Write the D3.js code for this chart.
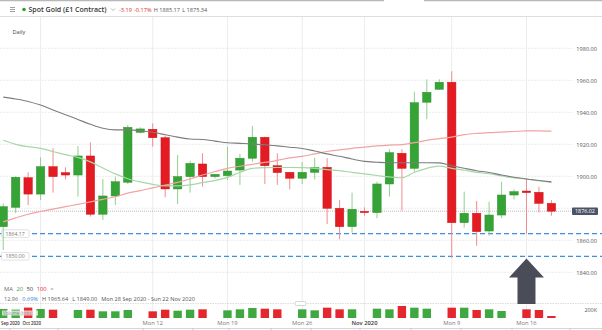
<!DOCTYPE html>
<html><head><meta charset="utf-8">
<script src="https://cdn.jsdelivr.net/npm/d3@7/dist/d3.min.js"></script>
<style>html,body{margin:0;padding:0;background:#fff;overflow:hidden}svg{display:block;font-family:"Open Sans",sans-serif}</style>
</head><body><svg id="c" width="602" height="330"></svg>
<script>
// ---- data ----
const dates = ["2020-09-28","2020-09-29","2020-09-30","2020-10-01","2020-10-02","2020-10-04","2020-10-05","2020-10-06","2020-10-07","2020-10-08","2020-10-09","2020-10-11","2020-10-12","2020-10-13","2020-10-14","2020-10-15","2020-10-16","2020-10-18","2020-10-19","2020-10-20","2020-10-21","2020-10-22","2020-10-23","2020-10-25","2020-10-26","2020-10-27","2020-10-28","2020-10-29","2020-10-30","2020-11-01","2020-11-02","2020-11-03","2020-11-04","2020-11-05","2020-11-06","2020-11-08","2020-11-09","2020-11-10","2020-11-11","2020-11-12","2020-11-13","2020-11-15","2020-11-16","2020-11-17","2020-11-18"];
const open  = [1868.5,1880.6,1899.1,1888.9,1906.0,1902.3,1900.8,1912.7,1876.3,1887.7,1896.3,1927.5,1929.4,1924.1,1892.1,1899.8,1907.7,1899.8,1900.4,1903.9,1911.3,1924.4,1906.6,1902.5,1898.8,1902.5,1905.6,1880.0,1868.5,1878.1,1877.3,1895.2,1914.4,1905.0,1946.3,1954.4,1958.8,1871.0,1876.9,1865.8,1875.8,1888.3,1890.8,1890.0,1883.1];
const high  = [1883.0,1900.0,1902.5,1911.9,1917.5,1905.6,1918.9,1921.3,1898.3,1899.8,1932.1,1930.6,1933.1,1925.4,1913.3,1909.8,1914.4,1901.5,1918.5,1914.0,1931.4,1924.8,1914.4,1902.8,1908.8,1911.6,1911.3,1885.2,1889.8,1880.6,1896.6,1916.9,1916.9,1952.9,1960.6,1960.6,1965.64,1890.4,1884.6,1884.1,1896.6,1891.9,1898.8,1893.5,1885.17];
const low   = [1854.0,1877.0,1882.0,1885.2,1889.8,1898.1,1887.3,1874.8,1872.7,1882.1,1895.2,1926.8,1918.5,1886.9,1882.7,1889.8,1893.5,1898.6,1897.7,1894.6,1909.1,1895.2,1894.6,1891.9,1895.2,1898.1,1870.2,1860.6,1864.8,1875.4,1873.8,1887.3,1878.5,1902.9,1935.6,1953.9,1849.0,1867.9,1856.6,1862.9,1873.8,1885.6,1864.17,1877.3,1875.34];
const close = [1881.0,1899.4,1888.9,1906.0,1899.8,1900.8,1912.7,1876.3,1887.7,1896.6,1930.6,1929.6,1924.1,1892.1,1899.8,1908.1,1899.8,1901.2,1903.3,1911.3,1924.4,1906.6,1902.3,1898.8,1902.5,1905.4,1880.0,1868.5,1879.4,1877.3,1895.2,1914.8,1905.0,1946.0,1952.5,1958.8,1871.0,1876.9,1865.4,1875.8,1888.3,1890.4,1889.8,1883.1,1878.2];
const volume = [225000,210000,260000,225000,208000,0,200000,208000,167000,167000,200000,0,167000,208000,183000,208000,217000,0,192000,217000,250000,233000,217000,0,217000,192000,258000,217000,217000,0,233000,217000,300000,258000,233000,0,258000,258000,200000,217000,175000,0,217000,200000,50000];
const ma20  = [1922.5,1920.0,1918.5,1917.5,1915.5,1913.5,1911.8,1909.0,1905.2,1901.5,1898.5,1896.5,1895.0,1894.0,1894.0,1894.6,1896.0,1897.3,1899.3,1902.5,1905.0,1905.4,1905.5,1905.5,1905.4,1905.0,1904.2,1903.5,1902.5,1901.5,1900.5,1899.6,1899.1,1902.5,1905.0,1906.4,1905.0,1903.8,1902.5,1901.6,1900.3,1899.0,1898.3,1897.2,1896.2];
const ma50  = [1949.5,1948.3,1946.8,1944.5,1941.5,1938.5,1935.5,1932.5,1930.0,1929.0,1929.0,1928.5,1927.5,1926.0,1924.5,1923.3,1923.0,1922.0,1921.0,1920.6,1920.2,1919.7,1919.0,1918.2,1917.4,1915.8,1914.0,1912.5,1910.8,1909.3,1908.8,1908.5,1908.5,1908.5,1908.5,1908.4,1906.6,1905.0,1903.5,1902.4,1900.8,1899.4,1898.3,1897.4,1896.5];
const ma100 = [1871.5,1874.0,1876.3,1878.0,1879.5,1881.0,1882.5,1884.0,1885.6,1887.2,1889.5,1891.0,1892.8,1894.5,1896.2,1898.3,1900.8,1903.0,1905.0,1906.3,1907.5,1908.7,1910.0,1911.5,1912.5,1914.0,1915.5,1916.5,1917.5,1918.2,1919.0,1919.5,1919.8,1921.0,1922.5,1923.5,1924.5,1926.0,1926.8,1927.3,1927.6,1928.0,1928.4,1928.4,1928.2];
const priceTicks = [1840,1860,1880,1900,1920,1940,1960,1980];
const volumeTicks = [200000];
const timeTickDates  = ["2020-09-28","2020-10-01","2020-10-12","2020-10-19","2020-10-26","2020-11-01","2020-11-09","2020-11-16"];
const timeTickLabels = ["Sep 2020","Oct 2020","Mon 12","Mon 19","Mon 26","Nov 2020","Mon 9","Mon 16"];
const levels = [1864.17, 1850.00];
const lastPriceText = "1876.02";
const titleText = "Spot Gold (£1 Contract)";
const headerStats = [{t:"-3.19",c:"#e0262b"},{t:"-0.17%",c:"#e0262b"},{t:"H 1885.17",c:"#555"},{t:"L 1875.34",c:"#555"}];
const legendItems = [{t:"MA",c:"#666"},{t:"20",c:"#3fa33f"},{t:"50",c:"#444"},{t:"100",c:"#e0262b"},{t:"×",c:"#888"}];
const statItems = [{t:"12.96",c:"#666"},{t:"0.69%",c:"#3a86d4"},{t:"H 1965.64",c:"#555"},{t:"L 1849.00",c:"#555"},{t:"Mon 28 Sep 2020 - Sun 22 Nov 2020",c:"#555"}];

// ---- scales ----
const svg = d3.select("#c");
const x = d3.scalePoint().domain(dates).range([3.2, 551.4]);
const y = d3.scaleLinear().domain([1840, 1980]).range([272.3, 48.3]);
const yv = d3.scaleLinear().domain([0, 200000]).range([318, 310]);
const GREEN = "#36a336", RED = "#e31b23";
const bodyW = 8.4;
const plotRight = 572;

// top border + header
svg.append("line").attr("x1",0).attr("x2",384).attr("y1",0.5).attr("y2",0.5).attr("stroke","#b8b8b8").attr("stroke-width",1.5);
svg.append("line").attr("x1",424).attr("x2",602).attr("y1",0.5).attr("y2",0.5).attr("stroke","#b8b8b8").attr("stroke-width",1.5);
svg.append("line").attr("x1",0).attr("x2",602).attr("y1",16.5).attr("y2",16.5).attr("stroke","#dedede");
[7.5,9.5,11.5].forEach(yy=>svg.append("line").attr("x1",10).attr("x2",15).attr("y1",yy).attr("y2",yy).attr("stroke","#888").attr("stroke-width",0.8));
svg.append("circle").attr("cx",24).attr("cy",9.5).attr("r",1.8).attr("fill","#2ea02e");
svg.append("text").attr("x",28.5).attr("y",12).attr("font-size",7).attr("font-weight",600).attr("fill","#333").text(titleText);
svg.append("path").attr("d","M111,8.5 L113,10.5 L115,8.5").attr("fill","none").attr("stroke","#999").attr("stroke-width",0.7);
let hx = 119;
const hg = svg.append("g");
headerStats.forEach(s=>{
  const t = hg.append("text").attr("x",hx).attr("y",12).attr("font-size",5.6).attr("fill",s.c).text(s.t);
  hx += t.node().getComputedTextLength() + 2.2;
});
svg.append("text").attr("x",12.5).attr("y",33.5).attr("font-size",5.6).attr("fill","#444").text("Daily");

// grid
const grid = svg.append("g");
priceTicks.forEach(v=>{
  grid.append("line").attr("x1",0).attr("x2",plotRight).attr("y1",y(v)).attr("y2",y(v))
    .attr("stroke","#ececec").attr("stroke-width",1).attr("stroke-dasharray","2,1");
});
timeTickDates.slice(1).forEach(d=>{
  grid.append("line").attr("x1",x(d)).attr("x2",x(d)).attr("y1",17).attr("y2",320)
    .attr("stroke","#ececec").attr("stroke-width",1);
});

// right price axis
const axisG = svg.append("g").attr("transform","translate(597,0)")
  .call(d3.axisLeft(y).tickValues(priceTicks.filter(v=>Math.abs(y(v)-y(close[close.length-1]))>8)).tickFormat(d3.format(".2f")).tickSize(0).tickPadding(0));
axisG.select(".domain").remove();
axisG.selectAll("text").attr("font-size",5.6).attr("fill","#555").attr("font-family","Open Sans, sans-serif");

// support levels
levels.forEach(v=>{
  svg.append("line").attr("x1",0).attr("x2",602).attr("y1",y(v)).attr("y2",y(v))
    .attr("stroke","#3d8fe0").attr("stroke-width",1.3).attr("stroke-dasharray","5,3");
  svg.append("rect").attr("x",1.5).attr("y",y(v)-3.8).attr("width",27.5).attr("height",7.6)
    .attr("fill","#fff").attr("stroke","#cfcfcf").attr("stroke-width",0.6).attr("rx",1);
  svg.append("text").attr("x",15.2).attr("y",y(v)+1.9).attr("text-anchor","middle").attr("font-size",5.2).attr("fill","#777").text(d3.format(".2f")(v));
});

// current price line
const lastY = y(close[close.length-1]);
svg.append("line").attr("x1",0).attr("x2",plotRight).attr("y1",lastY).attr("y2",lastY)
  .attr("stroke","#aaa").attr("stroke-width",0.8).attr("stroke-dasharray","1,1");

// candles
const cg = svg.append("g");
dates.forEach((d,i)=>{
  const up = close[i] >= open[i];
  const col = up ? GREEN : RED;
  cg.append("line").attr("x1",x(d)).attr("x2",x(d)).attr("y1",y(high[i])).attr("y2",y(low[i]))
    .attr("stroke", up ? "#8fd08f" : "#f28c8f").attr("stroke-width",1);
  const top = y(Math.max(open[i],close[i])), bot = y(Math.min(open[i],close[i]));
  cg.append("rect").attr("x",x(d)-bodyW/2).attr("y",top).attr("width",bodyW).attr("height",Math.max(1.2,bot-top))
    .attr("fill",col).attr("stroke",up?"#2e912e":"#d0151c").attr("stroke-width",0.5);
});

// moving averages
const line = arr => d3.line().x((d,i)=>x(dates[i])).y(d=>y(d)).curve(d3.curveMonotoneX)(arr);
svg.append("path").attr("d",line(ma100)).attr("fill","none").attr("stroke","#f2a3a3").attr("stroke-width",1.2);
svg.append("path").attr("d",line(ma20)).attr("fill","none").attr("stroke","#a6d8a6").attr("stroke-width",1.2);
svg.append("path").attr("d",line(ma50)).attr("fill","none").attr("stroke","#7d7d7d").attr("stroke-width",1.1);

// current price label
svg.append("rect").attr("x",572).attr("y",lastY-3.8).attr("width",26).attr("height",7.6).attr("fill","#4c5366").attr("rx",1);
svg.append("text").attr("x",585).attr("y",lastY+2).attr("text-anchor","middle").attr("font-size",5.4).attr("fill","#fff").text(lastPriceText);

// legend (bottom-left)
let lx = 4;
legendItems.forEach(s=>{
  const t = svg.append("text").attr("x",lx).attr("y",291).attr("font-size",5.8).attr("fill",s.c).text(s.t);
  lx += t.node().getComputedTextLength() + 3.5;
});
lx = 4;
statItems.forEach(s=>{
  const t = svg.append("text").attr("x",lx).attr("y",300.5).attr("font-size",5.6).attr("fill",s.c).text(s.t);
  lx += t.node().getComputedTextLength() + 4;
});

// volume pane separator
svg.append("line").attr("x1",0).attr("x2",602).attr("y1",303.5).attr("y2",303.5).attr("stroke","#cfcfcf").attr("stroke-width",0.7).attr("stroke-dasharray","1.5,1");
svg.append("rect").attr("x",295).attr("y",301.5).attr("width",11).attr("height",4).attr("rx",1.5).attr("fill","#fff").attr("stroke","#bbb").attr("stroke-width",0.6);

// volume bars
dates.forEach((d,i)=>{
  if (!volume[i]) return;
  const up = close[i] >= open[i];
  svg.append("rect").attr("x",x(d)-bodyW/2).attr("y",yv(volume[i])).attr("width",bodyW).attr("height",yv(0)-yv(volume[i]))
    .attr("fill", up ? GREEN : RED).attr("opacity",0.95);
});
svg.append("rect").attr("x",2).attr("y",310.5).attr("width",36).attr("height",5).attr("fill","#fff").attr("opacity",0.7);
svg.append("text").attr("x",3).attr("y",314.5).attr("font-size",4.6).attr("fill","#888").text("Volume (ticks)");
volumeTicks.forEach(v=>{
  svg.append("text").attr("x",597).attr("y",yv(v)+2).attr("text-anchor","end").attr("font-size",5.4).attr("fill","#555").text(d3.format(".0s")(v).replace("k","K"));
});

// time axis labels
const tl = [];
timeTickDates.forEach((d,i)=>{
  let anchor = "middle", xx = x(d);
  if (i===0){ anchor="start"; xx = 1; }
  if (i===1){ anchor="end"; xx = x(d) + 0.5; }
  const strong = (i===0||i===1||i===5);
  tl.push(svg.append("text").attr("x",xx).attr("y",324.5).attr("text-anchor",anchor).attr("font-size", 5.8)
    .attr("fill", strong ? "#333" : "#777").attr("font-weight", strong ? 600 : 400).text(timeTickLabels[i]));
});
// shrink the two crowded month labels until they no longer touch
for (let fs = 5.8; fs > 3; fs -= 0.2) {
  tl[0].attr("font-size", fs); tl[1].attr("font-size", fs);
  const a = tl[0].node().getBBox(), b = tl[1].node().getBBox();
  if (a.x + a.width < b.x - 1.2) break;
}
// bottom toolbar edge
svg.append("line").attr("x1",0).attr("x2",602).attr("y1",328.5).attr("y2",328.5).attr("stroke","#ccc").attr("stroke-width",0.8);
[10,58,143,193,229,271,311,360,411,461,512,570].forEach(tx=>{
  svg.append("line").attr("x1",tx).attr("x2",tx).attr("y1",328.5).attr("y2",330).attr("stroke","#bbb").attr("stroke-width",0.8);
});

// annotation arrow (points at Mon 16 low)
const ax = x("2020-11-16");
svg.append("path").attr("d",`M${ax},258.5 L${ax+17.5},277.5 L${ax+9},277.5 L${ax+9},304 L${ax-9},304 L${ax-9},277.5 L${ax-17.5},277.5 Z`).attr("fill","#4a4d57");
</script></body></html>
